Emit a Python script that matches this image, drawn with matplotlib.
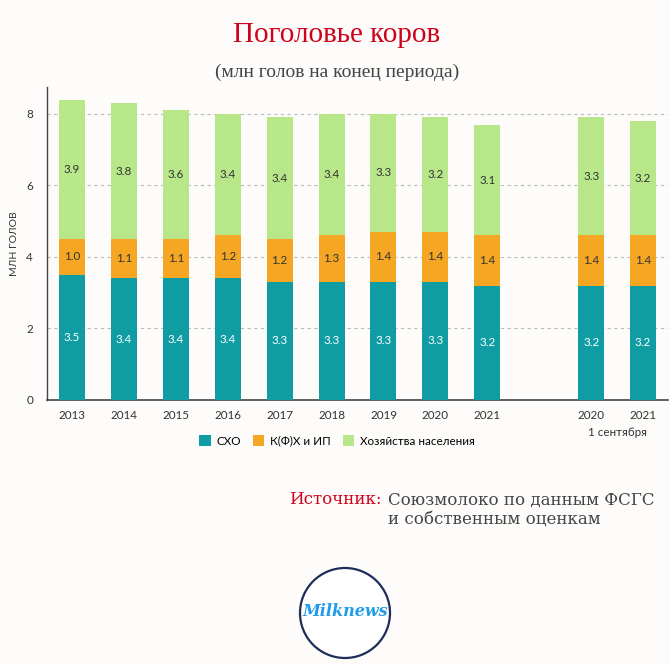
import matplotlib
matplotlib.use("Agg")
import matplotlib.pyplot as plt
from matplotlib.patches import Circle
import numpy as np

categories = ["2013", "2014", "2015", "2016", "2017", "2018", "2019", "2020", "2021", "2020", "2021"]
positions = [0, 1, 2, 3, 4, 5, 6, 7, 8, 10, 11]
sho = [3.5, 3.4, 3.4, 3.4, 3.3, 3.3, 3.3, 3.3, 3.2, 3.2, 3.2]
kfh = [1.0, 1.1, 1.1, 1.2, 1.2, 1.3, 1.4, 1.4, 1.4, 1.4, 1.4]
hh = [3.9, 3.8, 3.6, 3.4, 3.4, 3.4, 3.3, 3.2, 3.1, 3.3, 3.2]
series_names = ["СХО", "К(Ф)Х и ИП", "Хозяйства населения"]
colors = ["#0F9DA3", "#F5A623", "#B8E78A"]
label_colors = ["white", "#333333", "#333333"]

bg = "#FDFCFA"
fig = plt.figure(figsize=(6.7, 6.64), dpi=100, facecolor=bg)
ax = fig.add_axes([47/670, 264/664, 621/670, 313/664], facecolor=bg)

bottom = np.zeros(len(positions))
for vals, col, lc, name in zip([sho, kfh, hh], colors, label_colors, series_names):
    vals = np.array(vals)
    bars = ax.bar(positions, vals, bottom=bottom, width=0.5, color=col, label=name, zorder=3)
    for b, v, bt in zip(bars, vals, bottom):
        ax.text(b.get_x() + b.get_width()/2, bt + v/2, f"{v:.1f}", ha="center", va="center",
                color=lc, fontsize=8.4, family="Lato", zorder=4)
    bottom = bottom + vals

ax.set_xlim(-0.48, 11.48)
ax.set_ylim(0, 8.75)
ax.set_yticks([0, 2, 4, 6, 8])
ax.set_xticks(positions)
ax.set_xticklabels(categories)
ax.tick_params(axis="both", length=0, labelsize=8.4, labelcolor="#333333")
ax.tick_params(axis="x", pad=7)
ax.tick_params(axis="y", pad=10)
for lab in ax.get_xticklabels() + ax.get_yticklabels():
    lab.set_family("Lato")
for y in [2, 4, 6, 8]:
    ax.axhline(y, color="#BBBBBB", linestyle=(0, (3, 3)), linewidth=0.8, zorder=1)
for s in ["top", "right"]:
    ax.spines[s].set_visible(False)
ax.spines["left"].set_color("#444444")
ax.spines["bottom"].set_color("#444444")
ax.spines["left"].set_linewidth(1.0)
ax.spines["bottom"].set_linewidth(1.2)
ax.set_ylabel("МЛН ГОЛОВ", family="Lato", fontsize=7.5, color="#333333", labelpad=5)

ax.text(10.5, -0.085, "1 сентября", transform=ax.get_xaxis_transform(), ha="center", va="top",
        fontsize=8.4, family="Lato", color="#333333")

leg = fig.legend(loc="center", bbox_to_anchor=(337/670, 1 - 441/664), ncol=3, frameon=False,
                 prop={"family": "Lato", "size": 8.4}, handlelength=1.0, handleheight=1.0,
                 columnspacing=1.0, handletextpad=0.5)

fig.text(337/670, 1 - 35/664, "Поголовье коров", ha="center", va="center", color="#D0021B",
         fontsize=21, family="Liberation Serif")
fig.text(337/670, 1 - 72/664, "(млн голов на конец периода)", ha="center", va="center", color="#444444",
         fontsize=14, family="Liberation Serif")

fig.text(382/670, 1 - 500/664, "Источник:", ha="right", va="center", color="#D0021B",
         fontsize=12, family="DejaVu Serif")
fig.text(388/670, 1 - 500/664, "Союзмолоко по данным ФСГС", ha="left", va="center", color="#444444",
         fontsize=12, family="DejaVu Serif")
fig.text(388/670, 1 - 520/664, "и собственным оценкам", ha="left", va="center", color="#444444",
         fontsize=12, family="DejaVu Serif")

# logo
lax = fig.add_axes([0, 0, 1, 1], facecolor="none")
lax.set_xlim(0, 670)
lax.set_ylim(664, 0)
lax.axis("off")
lax.add_patch(Circle((345, 613), 45, facecolor="white", edgecolor="#1F2D5A", linewidth=1.6))
lax.text(345, 612, "Milknews", ha="center", va="center", color="#1E9BE9", fontsize=11.5,
         style="italic", weight="bold", family="DejaVu Serif")

fig.savefig("out.png", dpi=100, facecolor=bg)
